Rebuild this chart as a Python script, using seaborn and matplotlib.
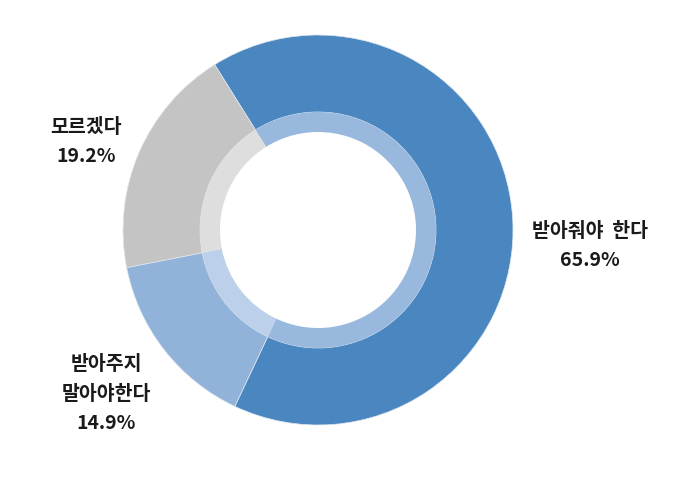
import matplotlib
matplotlib.use("Agg")
import matplotlib.pyplot as plt
import seaborn as sns

# ==========================================================
# DATA
# ==========================================================

labels = ["받아줘야  한다", "받아주지\n말아야한다", "모르겠다"]
values = [65.9, 14.9, 19.2]

outer_colors = ["#4a87c0", "#91b3da", "#c4c4c4"]
inner_colors = ["#98b9dd", "#bcd1e9", "#dedede"]

# ==========================================================
# STYLE
# ==========================================================

sns.set_theme(style="white")
plt.rcParams["font.family"] = ["Noto Sans CJK KR", "DejaVu Sans"]

fig = plt.figure(figsize=(6.85, 4.87), dpi=100)
ax = fig.add_axes([0, 0, 1, 1])

cx, cy = 318, 257

# Outer ring
ax.pie(
    values,
    colors=outer_colors,
    startangle=122,
    counterclock=False,
    radius=195,
    center=(cx, cy),
    wedgeprops=dict(width=77, edgecolor="#dfe7f0", linewidth=0.5),
    frame=True,
)

# Inner ring
ax.pie(
    values,
    colors=inner_colors,
    startangle=122,
    counterclock=False,
    radius=118,
    center=(cx, cy),
    wedgeprops=dict(width=20, edgecolor="none"),
    frame=True,
)

ax.set_xlim(0, 685)
ax.set_ylim(0, 487)
ax.set_aspect("equal")
ax.axis("off")

# ==========================================================
# LABELS
# ==========================================================

text_style = dict(ha="center", va="center", fontsize=14,
                  color="#1a1a1a", fontweight="bold", linespacing=1.7)

ax.text(590, 487 - 246, f"{labels[0]}\n{values[0]}%", **text_style)
ax.text(86, 487 - 142, f"{labels[2]}\n{values[2]}%", **text_style)
ax.text(106, 487 - 394, f"{labels[1]}\n{values[1]}%", **text_style)

fig.savefig("out.png", dpi=100, facecolor="white")
